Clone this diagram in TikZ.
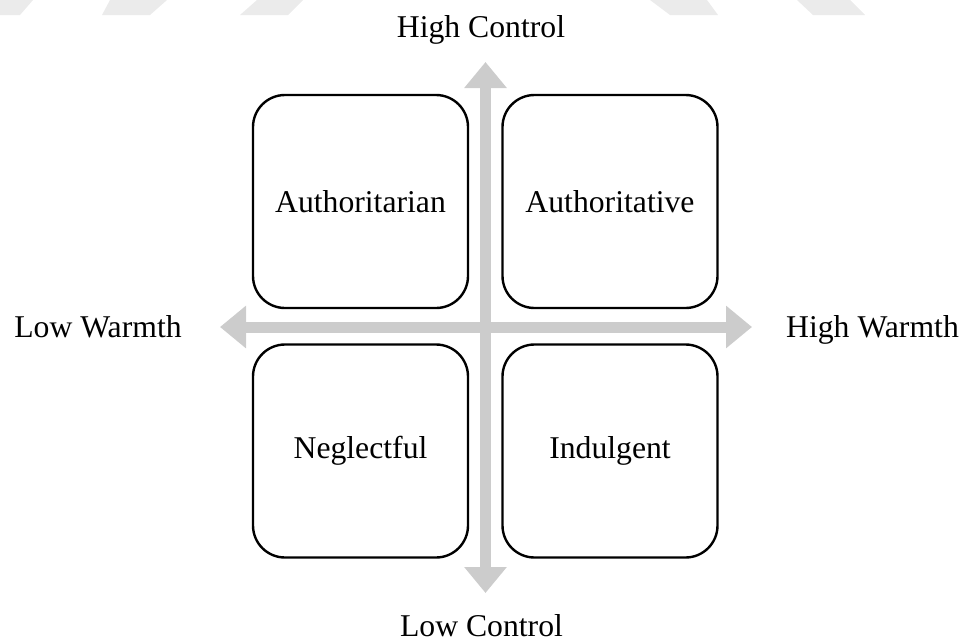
\documentclass[tikz,border=0pt]{standalone}
\usepackage{fontspec}
\setmainfont{Liberation Serif}
\usetikzlibrary{arrows.meta}
\definecolor{axisgray}{RGB}{204,204,204}
\definecolor{markgray}{RGB}{235,235,235}
\tikzset{
  lbl/.style={font=\fontsize{31.7}{38}\selectfont, inner sep=0pt, anchor=base},
  stylebox/.style={draw=black, fill=white, line width=2.4pt, rounded corners=32pt,
    minimum width=215pt, minimum height=213pt, inner sep=0pt,
    font=\fontsize{31.7}{38}\selectfont},
  axisline/.style={draw=axisgray, line width=11pt,
    {Triangle[length=26pt,width=41pt]}-{Triangle[length=26pt,width=41pt]}},
  wmark/.style={fill=markgray, draw=none}
}
\begin{document}
\begin{tikzpicture}[x=1pt,y=-1pt]
\useasboundingbox (0,0) rectangle (968,640);
% faint marks at the top edge
\fill[wmark] (0,0) -- (33,0) -- (20,15) -- (0,15) -- cycle;
\fill[wmark] (110,0) -- (167,0) -- (150,15) -- (102,15) -- cycle;
\fill[wmark] (257,0) -- (303,0) -- (288,15) -- (240,15) -- cycle;
\fill[wmark] (650,0) -- (707,0) -- (718,15) -- (670,15) -- cycle;
\fill[wmark] (797,0) -- (850,0) -- (865,15) -- (813,15) -- cycle;
% axis end points
\coordinate (top) at (485.5,62);
\coordinate (bottom) at (485.5,593);
\coordinate (left) at (220,327);
\coordinate (right) at (752,327);
\draw[axisline] (bottom) -- (top);
\draw[axisline] (left) -- (right);
% boxes
\node[stylebox] (authoritarian) at (360.5,201.5) {Authoritarian};
\node[stylebox] (authoritative) at (610,201.5) {Authoritative};
\node[stylebox] (neglectful) at (360.5,451) {Neglectful};
\node[stylebox] (indulgent) at (610,451) {Indulgent};
% labels
\node[lbl] (highcontrol) at (481,37) {High Control};
\node[lbl] (lowcontrol) at (481.5,636.5) {Low Control};
\node[lbl] (lowwarmth) at (98,337) {Low Warmth};
\node[lbl] (highwarmth) at (872.5,337) {High Warmth};
\end{tikzpicture}
\end{document}
